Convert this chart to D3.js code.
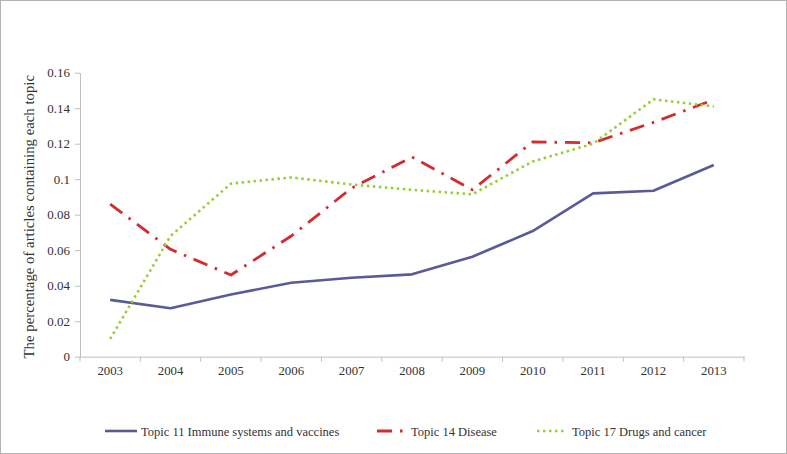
<!DOCTYPE html>
<html><head><meta charset="utf-8">
<script src="https://cdn.jsdelivr.net/npm/d3@7"></script>
<style>body{margin:0;background:#fff}svg{display:block}</style>
</head><body><svg id="c" width="787" height="454"></svg>
<script>
const years = ["2003","2004","2005","2006","2007","2008","2009","2010","2011","2012","2013"];
const topic11 = [0.032,0.0273,0.035,0.0417,0.0445,0.0464,0.0563,0.0708,0.092,0.0935,0.108];
const topic14 = [0.086,0.0605,0.046,0.068,0.095,0.1125,0.094,0.121,0.1205,0.132,0.1448];
const topic17 = [0.010,0.068,0.0975,0.101,0.097,0.094,0.0915,0.110,0.120,0.145,0.141];
const yTicks = [0,0.02,0.04,0.06,0.08,0.1,0.12,0.14,0.16];
const seriesNames = ["Topic 11 Immune systems and vaccines","Topic 14 Disease","Topic 17 Drugs and cancer"];
const FONT = "'Liberation Serif', 'Times New Roman', serif";

const svg = d3.select("#c");
svg.append("rect").attr("x",0.5).attr("y",0.5).attr("width",786).attr("height",453).attr("fill","#fff").attr("stroke","#b3b3b3");

const L=80,R=744,T=72.7,B=356.7;
const x = d3.scaleBand().domain(years).range([L,R]);
const y = d3.scaleLinear().domain([0,0.16]).range([B,T]);

// y axis
const ya = svg.append("g").attr("transform",`translate(${L},0)`)
  .call(d3.axisLeft(y).tickValues(yTicks).tickFormat(d=>d===0?"0":String(+d.toFixed(2))).tickSize(5).tickSizeOuter(0));
ya.attr("font-family",FONT);
ya.select(".domain").attr("stroke","#bfbfbf");
ya.selectAll(".tick line").attr("stroke","#bfbfbf");
ya.selectAll("text").style("font-family",FONT).attr("font-size",13).attr("fill","#333").attr("dx",-2);

// x axis
const xa = svg.append("g").attr("transform",`translate(0,${B})`)
  .call(d3.axisBottom(x).tickSize(0).tickSizeOuter(0));
xa.attr("font-family",FONT);
xa.select(".domain").attr("stroke","#bfbfbf");
xa.selectAll("text").style("font-family",FONT).attr("font-size",12.8).attr("fill","#333").attr("dy","1.2em");
const bounds = years.map(d=>x(d)).concat([R]);
xa.selectAll(".btick").data(bounds).enter().append("line")
  .attr("x1",d=>d).attr("x2",d=>d).attr("y1",0).attr("y2",5).attr("stroke","#bfbfbf");

// y title
svg.append("text").attr("transform",`translate(34,${(T+B)/2+2}) rotate(-90)`)
  .style("font-family",FONT).attr("fill","#333")
  .attr("text-anchor","middle").attr("font-size",14.8).text("The percentage of articles containing each topic");

const cx = d=>x(d)+x.bandwidth()/2;
const line = d3.line().x((d,i)=>cx(years[i])).y(d=>y(d));
const styles = [
  {data:topic11,color:"#5a5a9a",w:2.6,dash:null},
  {data:topic14,color:"#d42a30",w:2.8,dash:"15,8,2.5,8"},
  {data:topic17,color:"#9acd32",w:2.6,dash:"2.5,3.5"}
];
styles.forEach(s=>{
  svg.append("path").attr("d",line(s.data)).attr("fill","none").attr("stroke",s.color)
    .attr("stroke-width",s.w).attr("stroke-dasharray",s.dash).attr("stroke-linejoin","round");
});

// legend
const ly = 431;
const leg = [
  {x1:105,x2:137,tx:141},
  {x1:377,x2:404,tx:411},
  {x1:537,x2:566,tx:572}
];
leg.forEach((l,i)=>{
  const s=styles[i];
  svg.append("line").attr("x1",l.x1).attr("x2",l.x2).attr("y1",ly).attr("y2",ly)
    .attr("stroke",s.color).attr("stroke-width",s.w).attr("stroke-dasharray",s.dash);
  svg.append("text").attr("x",l.tx).attr("y",ly+4.5).style("font-family",FONT).attr("fill","#333")
    .attr("font-size",12.5).text(seriesNames[i]);
});
</script></body></html>
